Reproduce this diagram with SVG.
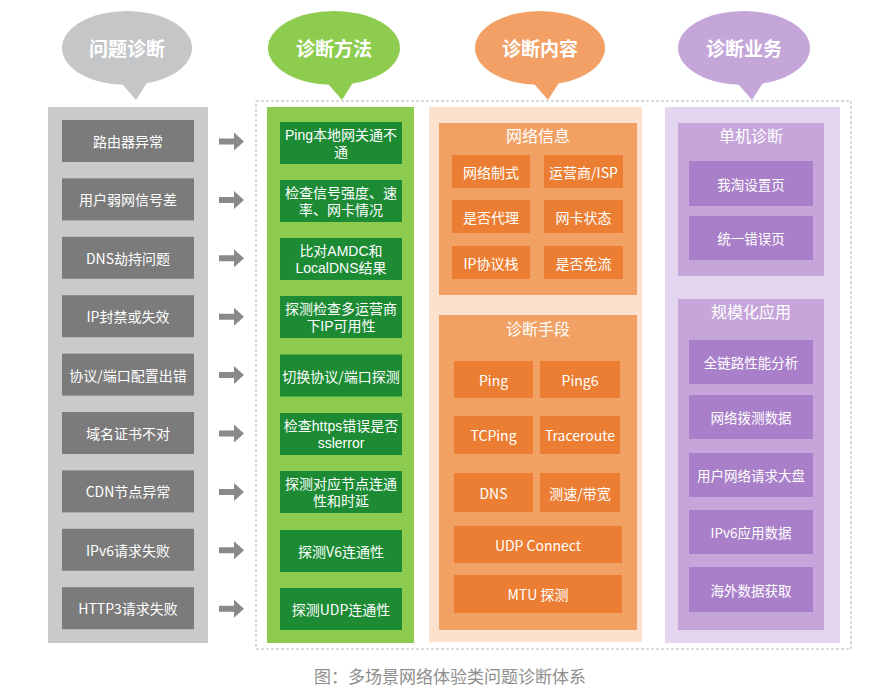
<svg xmlns="http://www.w3.org/2000/svg" width="888" height="691" viewBox="0 0 888 691">
<defs>
<style>
text{font-family:"Noto Sans CJK SC","Noto Sans",sans-serif;fill:#fff;text-anchor:middle;dominant-baseline:central}
.hd{font-size:19px;font-weight:bold}
.t14{font-size:14px}
.two{font-size:14px;font-family:"Liberation Sans","Noto Sans CJK SC",sans-serif}
.t13{font-size:13.5px}
.t16{font-size:16px}
.gbox{fill:#7b7b7b}
.grbox{fill:#1c8b34}
.obox{fill:#ec7e33}
.omid{fill:#f1a163}
.pbox{fill:#a97fc9}
.pmid{fill:#c6a6da}
.arr{fill:#8a8a8a}
.cap{font-size:17px;fill:#8e8e8e}
</style>
</defs>
<rect width="888" height="691" fill="#fff"/>
<g id="headers">
<g id="h1"><ellipse cx="127" cy="48" rx="65" ry="37" fill="#c4c6c8"/><polygon points="117,78 136,100 150,78" fill="#c4c6c8"/><text class="hd" x="127" y="47">问题诊断</text></g>
<g id="h2"><ellipse cx="334" cy="48" rx="66" ry="37" fill="#8dcc4f"/><polygon points="323,78 342,100 356,78" fill="#8dcc4f"/><text class="hd" x="334" y="47">诊断方法</text></g>
<g id="h3"><ellipse cx="540" cy="48" rx="65" ry="37" fill="#f2a066"/><polygon points="529,78 548,100 562,78" fill="#f2a066"/><text class="hd" x="540" y="47">诊断内容</text></g>
<g id="h4"><ellipse cx="744" cy="48" rx="66" ry="37" fill="#c4a6d9"/><polygon points="733,78 752,100 766,78" fill="#c4a6d9"/><text class="hd" x="744" y="47">诊断业务</text></g>
</g>
<rect x="256" y="101" width="595" height="548" fill="none" stroke="#b5b5b5" stroke-width="1" stroke-dasharray="3,2"/>
<g id="col1">
<rect x="48" y="107" width="160" height="536" fill="#c8cacc"/>
<g id="p1"><rect class="gbox" x="62" y="120" width="132" height="42"/><text class="t14" x="128" y="141">路由器异常</text></g>
<g id="p2"><rect class="gbox" x="62" y="178.4" width="132" height="42"/><text class="t14" x="128" y="199.4">用户弱网信号差</text></g>
<g id="p3"><rect class="gbox" x="62" y="236.8" width="132" height="42"/><text class="t14" x="128" y="257.8">DNS劫持问题</text></g>
<g id="p4"><rect class="gbox" x="62" y="295.2" width="132" height="42"/><text class="t14" x="128" y="316.2">IP封禁或失效</text></g>
<g id="p5"><rect class="gbox" x="62" y="353.6" width="132" height="42"/><text class="t14" x="128" y="374.6">协议/端口配置出错</text></g>
<g id="p6"><rect class="gbox" x="62" y="412" width="132" height="42"/><text class="t14" x="128" y="433">域名证书不对</text></g>
<g id="p7"><rect class="gbox" x="62" y="470.4" width="132" height="42"/><text class="t14" x="128" y="491.4">CDN节点异常</text></g>
<g id="p8"><rect class="gbox" x="62" y="528.8" width="132" height="42"/><text class="t14" x="128" y="549.8">IPv6请求失败</text></g>
<g id="p9"><rect class="gbox" x="62" y="587.2" width="132" height="42"/><text class="t14" x="128" y="608.2">HTTP3请求失败</text></g>
</g>
<g id="connectors">
<path class="arr" d="M219,138.5h15v-6l10,9l-10,9v-6h-15z"/>
<path class="arr" d="M219,196.9h15v-6l10,9l-10,9v-6h-15z"/>
<path class="arr" d="M219,255.3h15v-6l10,9l-10,9v-6h-15z"/>
<path class="arr" d="M219,313.7h15v-6l10,9l-10,9v-6h-15z"/>
<path class="arr" d="M219,372.1h15v-6l10,9l-10,9v-6h-15z"/>
<path class="arr" d="M219,430.5h15v-6l10,9l-10,9v-6h-15z"/>
<path class="arr" d="M219,488.9h15v-6l10,9l-10,9v-6h-15z"/>
<path class="arr" d="M219,547.3h15v-6l10,9l-10,9v-6h-15z"/>
<path class="arr" d="M219,605.7h15v-6l10,9l-10,9v-6h-15z"/>
</g>
<g id="col2">
<rect x="267" y="107" width="147" height="536" fill="#8dcb4f"/>
<g id="m1"><rect class="grbox" x="280" y="122" width="122" height="42"/><text class="two" x="341" y="135">Ping本地网关通不<tspan x="341" dy="17">通</tspan></text></g>
<g id="m2"><rect class="grbox" x="280" y="180" width="122" height="42"/><text class="two" x="341" y="193">检查信号强度、速<tspan x="341" dy="17">率、网卡情况</tspan></text></g>
<g id="m3"><rect class="grbox" x="280" y="238" width="122" height="42"/><text class="two" x="341" y="251">比对AMDC和<tspan x="341" dy="17">LocalDNS结果</tspan></text></g>
<g id="m4"><rect class="grbox" x="280" y="296" width="122" height="42"/><text class="two" x="341" y="309">探测检查多运营商<tspan x="341" dy="17">下IP可用性</tspan></text></g>
<g id="m5"><rect class="grbox" x="280" y="354.5" width="122" height="42"/><text class="t14" x="341" y="375.5">切换协议/端口探测</text></g>
<g id="m6"><rect class="grbox" x="280" y="413" width="122" height="42"/><text class="two" x="341" y="426">检查https错误是否<tspan x="341" dy="17">sslerror</tspan></text></g>
<g id="m7"><rect class="grbox" x="280" y="471" width="122" height="42"/><text class="two" x="341" y="484">探测对应节点连通<tspan x="341" dy="17">性和时延</tspan></text></g>
<g id="m8"><rect class="grbox" x="280" y="530" width="122" height="42"/><text class="t14" x="341" y="551">探测V6连通性</text></g>
<g id="m9"><rect class="grbox" x="280" y="588" width="122" height="42"/><text class="t14" x="341" y="609">探测UDP连通性</text></g>
</g>
<g id="col3">
<rect x="429" y="107" width="213" height="535" fill="#fbe1ce"/>
<g id="netinfo">
<rect class="omid" x="439" y="123" width="198" height="172"/>
<text class="t16" x="538" y="135">网络信息</text>
<g id="n1"><rect class="obox" x="452" y="155" width="78" height="33"/><text class="t14" x="491" y="171.5">网络制式</text></g>
<g id="n2"><rect class="obox" x="544" y="155" width="79" height="33"/><text class="t14" x="583.5" y="171.5">运营商/ISP</text></g>
<g id="n3"><rect class="obox" x="452" y="200" width="78" height="33"/><text class="t14" x="491" y="216.5">是否代理</text></g>
<g id="n4"><rect class="obox" x="544" y="200" width="79" height="33"/><text class="t14" x="583.5" y="216.5">网卡状态</text></g>
<g id="n5"><rect class="obox" x="452" y="246" width="78" height="33"/><text class="t14" x="491" y="262.5">IP协议栈</text></g>
<g id="n6"><rect class="obox" x="544" y="246" width="79" height="33"/><text class="t14" x="583.5" y="262.5">是否免流</text></g>
</g>
<g id="means">
<rect class="omid" x="439" y="315" width="198" height="315"/>
<text class="t16" x="538" y="328">诊断手段</text>
<g id="d1"><rect class="obox" x="454" y="361" width="79" height="37"/><text class="t14" x="493.5" y="379.5">Ping</text></g>
<g id="d2"><rect class="obox" x="540" y="361" width="80" height="37"/><text class="t14" x="580" y="379.5">Ping6</text></g>
<g id="d3"><rect class="obox" x="454" y="416" width="79" height="38"/><text class="t14" x="493.5" y="435">TCPing</text></g>
<g id="d4"><rect class="obox" x="540" y="416" width="80" height="38"/><text class="t14" x="580" y="435">Traceroute</text></g>
<g id="d5"><rect class="obox" x="454" y="473" width="79" height="39"/><text class="t14" x="493.5" y="492.5">DNS</text></g>
<g id="d6"><rect class="obox" x="540" y="473" width="80" height="39"/><text class="t14" x="580" y="492.5">测速/带宽</text></g>
<g id="d7"><rect class="obox" x="454" y="526" width="168" height="37"/><text class="t14" x="538" y="544.5">UDP Connect</text></g>
<g id="d8"><rect class="obox" x="454" y="575" width="168" height="38"/><text class="t14" x="538" y="594">MTU 探测</text></g>
</g>
</g>
<g id="col4">
<rect x="665" y="107" width="175" height="536" fill="#e3d5ee"/>
<g id="single">
<rect class="pmid" x="678" y="123" width="146" height="153"/>
<text class="t16" x="751" y="135">单机诊断</text>
<g id="s1"><rect class="pbox" x="689" y="161" width="124" height="45"/><text class="t13" x="751" y="183.5">我淘设置页</text></g>
<g id="s2"><rect class="pbox" x="689" y="216" width="124" height="44"/><text class="t13" x="751" y="238">统一错误页</text></g>
</g>
<g id="scale">
<rect class="pmid" x="678" y="299" width="146" height="331"/>
<text class="t16" x="751" y="311">规模化应用</text>
<g id="a1"><rect class="pbox" x="689" y="340" width="124" height="44"/><text class="t13" x="751" y="362">全链路性能分析</text></g>
<g id="a2"><rect class="pbox" x="689" y="395" width="124" height="44"/><text class="t13" x="751" y="417">网络拨测数据</text></g>
<g id="a3"><rect class="pbox" x="689" y="453" width="124" height="44"/><text class="t13" x="751" y="475">用户网络请求大盘</text></g>
<g id="a4"><rect class="pbox" x="689" y="510" width="124" height="44"/><text class="t13" x="751" y="532">IPv6应用数据</text></g>
<g id="a5"><rect class="pbox" x="689" y="567" width="124" height="45"/><text class="t13" x="751" y="589.5">海外数据获取</text></g>
</g>
</g>
<text class="cap" x="450" y="675">图：多场景网络体验类问题诊断体系</text>
</svg>
